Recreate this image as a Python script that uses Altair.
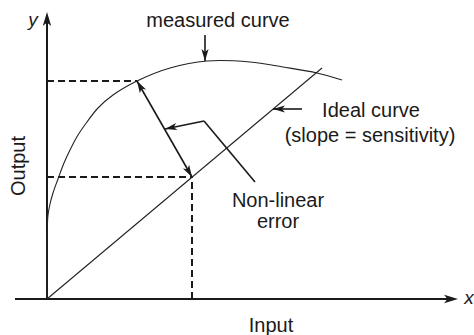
import altair as alt
import pandas as pd

# Measured sensor response (input, output); origin sits at the axes' crossing
measured_x = [0, 0, 0.3, 1, 3, 6, 11, 17, 24, 31, 40, 51, 66, 90, 123, 160, 203, 236, 270, 295]
measured_y = [0, 40, 72, 84, 95, 106, 120, 136, 151, 164, 177, 191, 204, 218, 231, 238, 237, 232, 226, 219]

# Ideal straight-line response (slope = sensitivity)
ideal_x = [0, 275]
ideal_y = [0, 231]

# Dashed projection lines (start / end)
dash_x1 = [0, 0, 145]
dash_y1 = [218, 122, 0]
dash_x2 = [90, 145, 145]
dash_y2 = [218, 122, 122]

# Axis lines
axis_x1 = [-32, 0]
axis_y1 = [0, 0]
axis_x2 = [405, 0]
axis_y2 = [0, 281]

# Pointer lines: error span, error label leader, curve labels
ptr_x1 = [90, 157, 157, 158, 255]
ptr_y1 = [218, 178, 178, 264, 190]
ptr_x2 = [145, 118, 208, 158, 226]
ptr_y2 = [122, 170, 117, 238, 190]

# Arrowhead tips and their directions (degrees clockwise from "up")
head_x = [0, 411, 90, 145, 118, 158, 226]
head_y = [287, 0, 218, 122, 170, 238, 190]
head_angle = [0, 90, 330, 150, 258, 180, 270]
head_size = [196, 196, 144, 144, 144, 144, 144]

# Annotations
label_text = ["measured curve", "Ideal curve", "(slope = sensitivity)", "Non-linear", "error", "Input"]
label_x = [171, 324, 323, 231, 231, 224]
label_y = [272, 182, 157, 92, 71, -33]

# Axis names
axis_name_text = ["y", "x"]
axis_name_x = [-14, 422]
axis_name_y = [273, -5]

ink = "#1a1a1a"
font = "Liberation Sans"

xs = alt.Scale(domain=[-47, 427], nice=False, zero=False)
ys = alt.Scale(domain=[-36, 299], nice=False, zero=False)


def X(field="x"):
    return alt.X(f"{field}:Q", scale=xs, axis=None)


def Y(field="y"):
    return alt.Y(f"{field}:Q", scale=ys, axis=None)


measured = pd.DataFrame({"x": measured_x, "y": measured_y, "i": range(len(measured_x))})
ideal = pd.DataFrame({"x": ideal_x, "y": ideal_y})
dashes = pd.DataFrame({"x": dash_x1, "y": dash_y1, "x2": dash_x2, "y2": dash_y2})
axes = pd.DataFrame({"x": axis_x1, "y": axis_y1, "x2": axis_x2, "y2": axis_y2})
pointers = pd.DataFrame({"x": ptr_x1, "y": ptr_y1, "x2": ptr_x2, "y2": ptr_y2})
heads = pd.DataFrame({"x": head_x, "y": head_y, "a": head_angle, "s": head_size})
labels = pd.DataFrame({"x": label_x, "y": label_y, "t": label_text})
names = pd.DataFrame({"x": axis_name_x, "y": axis_name_y, "t": axis_name_text})

curve = alt.Chart(measured).mark_line(
    color="#222222", strokeWidth=1.1, interpolate="catmull-rom"
).encode(x=X(), y=Y(), order="i:Q")

ideal_line = alt.Chart(ideal).mark_line(color="#222222", strokeWidth=1.1).encode(x=X(), y=Y())

dash_lines = alt.Chart(dashes).mark_rule(
    color=ink, strokeWidth=2, strokeDash=[7, 4]
).encode(x=X(), y=Y(), x2="x2:Q", y2="y2:Q")

axis_lines = alt.Chart(axes).mark_rule(color=ink, strokeWidth=2).encode(
    x=X(), y=Y(), x2="x2:Q", y2="y2:Q"
)

pointer_lines = alt.Chart(pointers).mark_rule(color=ink, strokeWidth=1.6).encode(
    x=X(), y=Y(), x2="x2:Q", y2="y2:Q"
)

arrowheads = alt.Chart(heads).mark_point(
    shape="M0,0L0.6,2L0,1.5L-0.6,2Z", filled=True, opacity=1, color=ink, strokeWidth=0
).encode(
    x=X(), y=Y(),
    angle=alt.Angle("a:Q", scale=None),
    size=alt.Size("s:Q", scale=None),
)

text = alt.Chart(labels).mark_text(
    font=font, fontSize=20, color=ink, align="center", baseline="alphabetic"
).encode(x=X(), y=Y(), text="t:N")

out_label = alt.Chart(pd.DataFrame({"x": [-22], "y": [133], "t": ["Output"]})).mark_text(
    font=font, fontSize=20, color=ink, align="center", baseline="alphabetic", angle=270
).encode(x=X(), y=Y(), text="t:N")

axis_names = alt.Chart(names).mark_text(
    font=font, fontSize=19, fontStyle="italic", color=ink, baseline="alphabetic", align="center"
).encode(x=X(), y=Y(), text="t:N")

chart = alt.layer(
    dash_lines, axis_lines, curve, ideal_line, pointer_lines, arrowheads,
    text, out_label, axis_names
).properties(
    width=474, height=335, autosize=alt.AutoSizeParams(type="none"), padding=0,
    background="white",
).configure_view(stroke=None)

chart.save("out.html", embed_options={"renderer": "svg", "actions": False})
